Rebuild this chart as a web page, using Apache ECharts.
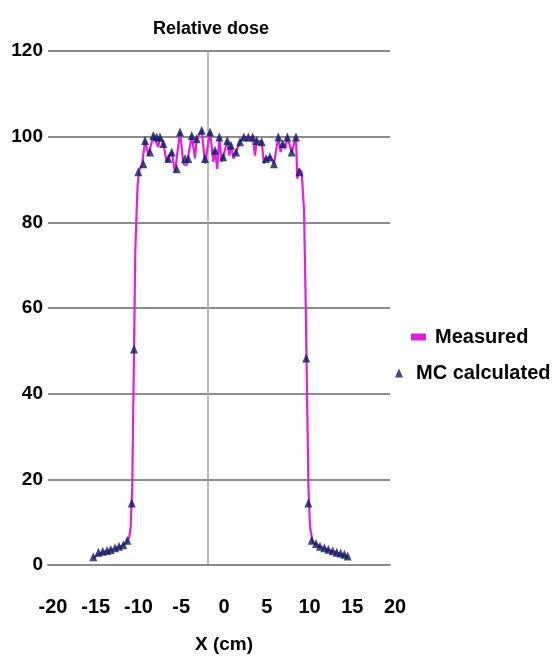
<!DOCTYPE html>
<html>
<head>
<meta charset="utf-8">
<title>Relative dose</title>
<script src="https://cdn.jsdelivr.net/npm/echarts@6/dist/echarts.min.js"></script>
<style>
  html, body { margin: 0; padding: 0; background: #ffffff; }
  #chart { width: 553px; height: 665px; }
</style>
</head>
<body>
<div id="chart"></div>
<script>
// Dose profile across the field: measured curve and Monte Carlo points
const measuredX = [
  -14.7, -14.2, -13.7, -13.2, -12.7, -12.2, -11.7, -11.2, -10.8, -10.5,
  -10.33, -10.14, -9.94, -9.79, -9.63, -9.51, -9.32, -9.0, -8.65, -8.26,
  -7.68, -7.1, -6.9, -6.51, -6.12, -5.93, -5.53, -5.15, -4.56, -4.17,
  -3.78, -3.19, -2.81, -2.61, -2.02, -1.64, -1.05, -0.66, -0.47, -0.2,
  0.04, 0.31, 0.5, 0.97, 1.21, 1.4, 1.68, 1.99, 2.46, 2.92,
  3.43, 3.94, 4.21, 4.41, 4.99, 5.26, 5.5, 5.96, 6.43, 6.94,
  7.21, 7.45, 7.72, 7.99, 8.5, 9.0, 9.16, 9.3, 9.67, 9.94,
  10.1, 10.25, 10.45, 10.64, 10.96, 11.35, 11.8, 12.3, 12.8, 13.3,
  13.8, 14.2, 14.7, 15.1
];
const measuredDose = [
  1.5, 2.4, 2.9, 3.2, 3.5, 3.8, 4.2, 4.6, 5.3, 6.5,
  8.9, 19, 50.2, 73.5, 82.9, 89.1, 92.2, 93.5, 99.1, 95.6,
  100.3, 97.6, 99.9, 98.4, 94.1, 94.9, 96.4, 91.8, 101.1, 93.7,
  93.3, 100.3, 94.9, 99.5, 101.5, 93.7, 101.1, 94.1, 96.8, 92.5,
  99.9, 94.1, 95.3, 99.1, 95.6, 98.0, 94.9, 96.4, 98.8, 99.9,
  99.9, 99.9, 95.6, 99.1, 98.8, 93.7, 94.9, 95.3, 93.7, 99.9,
  96.4, 98.4, 97.2, 99.9, 96.4, 99.9, 90.2, 92.5, 91.8, 82.9,
  65.8, 46.3, 19, 8.9, 5.4, 4.8, 4.3, 3.9, 3.5, 3.2,
  2.9, 2.6, 2.3, 1.8
];

const mcX = [
  -14.7, -14.1, -13.6, -13.1, -12.67, -12.16, -11.7, -11.19, -10.72, -10.2,
  -9.94, -9.44, -8.85, -8.65, -8.07, -7.68, -7.29, -6.9, -6.51, -5.93,
  -5.53, -4.95, -4.56, -3.98, -3.59, -3.19, -2.61, -2.02, -1.64, -1.05,
  -0.47, 0.04, 0.5, 0.97, 1.4, 1.99, 2.46, 2.92, 3.43, 3.94,
  4.41, 4.99, 5.5, 5.96, 6.43, 6.94, 7.45, 7.99, 8.5, 9.0,
  9.4, 10.2, 10.45, 10.84, 11.35, 11.81, 12.32, 12.79, 13.3, 13.77,
  14.23, 14.66, 15.05
];
const mcDose = [
  1.9, 3.0, 3.2, 3.4, 3.6, 4.0, 4.4, 4.7, 5.8, 14.5,
  50.4, 91.8, 93.7, 99.1, 96.4, 100.3, 99.9, 99.9, 98.4, 94.9,
  96.4, 92.5, 101.1, 94.9, 94.9, 100.3, 99.5, 101.5, 94.9, 101.1,
  96.8, 99.9, 95.3, 99.1, 98.0, 96.4, 98.8, 99.9, 99.9, 99.9,
  99.1, 98.8, 94.9, 95.3, 93.7, 99.9, 98.4, 99.9, 96.4, 99.9,
  91.8, 48.3, 14.5, 5.8, 5.0, 4.4, 4.0, 3.7, 3.3, 3.0,
  2.8, 2.5, 2.1
];

const xTicks = { min: -20, max: 20, step: 5 };
const yTicks = { min: 0, max: 120, step: 20 };

const FONT = '"Liberation Sans", Arial, sans-serif';
const MAGENTA = '#E21EE0';
const NAVY = '#0A1F5C';
const GRID_GRAY = '#8C8C8C';

const pairs = (xs, ys) => xs.map((x, i) => [x, ys[i]]);

const chart = echarts.init(document.getElementById('chart'), null, { renderer: 'canvas' });

chart.setOption({
  animation: false,
  backgroundColor: '#ffffff',
  title: {
    text: 'Relative dose',
    left: 206,
    top: 15,
    textAlign: 'center',
    textStyle: { fontFamily: FONT, fontWeight: 'bold', fontSize: 18, color: '#000' }
  },
  legend: [
    {
      data: [{ name: 'Measured', icon: 'rect' }],
      left: 406,
      top: 322,
      itemWidth: 15,
      itemHeight: 7,
      textStyle: { fontFamily: FONT, fontWeight: 'bold', fontSize: 20, color: '#000', padding: [0, 0, 0, 4] }
    },
    {
      data: [{ name: 'MC calculated', icon: 'triangle' }],
      left: 390,
      top: 358,
      itemWidth: 8,
      itemHeight: 9,
      textStyle: { fontFamily: FONT, fontWeight: 'bold', fontSize: 20, color: '#000', padding: [0, 0, 0, 8] }
    }
  ],
  grid: {
    left: 48,
    right: 163,
    top: 51,
    bottom: 100,
    containLabel: false,
    outerBoundsMode: 'none'
  },
  xAxis: {
    type: 'value',
    min: xTicks.min,
    max: xTicks.max,
    interval: xTicks.step,
    name: 'X (cm)',
    nameLocation: 'middle',
    nameGap: 70,
    nameTextStyle: { fontFamily: FONT, fontWeight: 'bold', fontSize: 19, color: '#000', padding: [0, 0, 0, 10] },
    axisLine: { show: true, onZero: false, lineStyle: { color: GRID_GRAY, width: 2 } },
    axisTick: { show: false },
    splitLine: { show: false },
    axisLabel: {
      margin: 32,
      fontFamily: FONT,
      fontWeight: 'bold',
      fontSize: 20,
      color: '#000',
      padding: [0, 0, 0, 10]
    }
  },
  yAxis: [
    {
      type: 'value',
      min: yTicks.min,
      max: yTicks.max,
      interval: yTicks.step,
      axisLine: { show: false },
      axisTick: { show: false },
      splitLine: { show: true, lineStyle: { color: GRID_GRAY, width: 2 } },
      axisLabel: {
        margin: 5,
        fontFamily: FONT,
        fontWeight: 'bold',
        fontSize: 19,
        color: '#000'
      }
    },
    {
      // vertical value-axis line crossing the plot
      type: 'value',
      min: yTicks.min,
      max: yTicks.max,
      position: 'left',
      offset: -160,
      axisLine: { show: true, lineStyle: { color: '#A6A6A6', width: 1.5 } },
      axisTick: { show: false },
      axisLabel: { show: false },
      splitLine: { show: false }
    }
  ],
  series: [
    {
      name: 'Measured',
      type: 'line',
      data: pairs(measuredX, measuredDose),
      showSymbol: false,
      symbol: 'none',
      lineStyle: { color: MAGENTA, width: 2.2 },
      itemStyle: { color: MAGENTA },
      z: 2
    },
    {
      name: 'MC calculated',
      type: 'scatter',
      data: pairs(mcX, mcDose),
      symbol: 'triangle',
      symbolSize: [8, 9],
      itemStyle: { color: NAVY },
      z: 3
    }
  ]
});
</script>
</body>
</html>
